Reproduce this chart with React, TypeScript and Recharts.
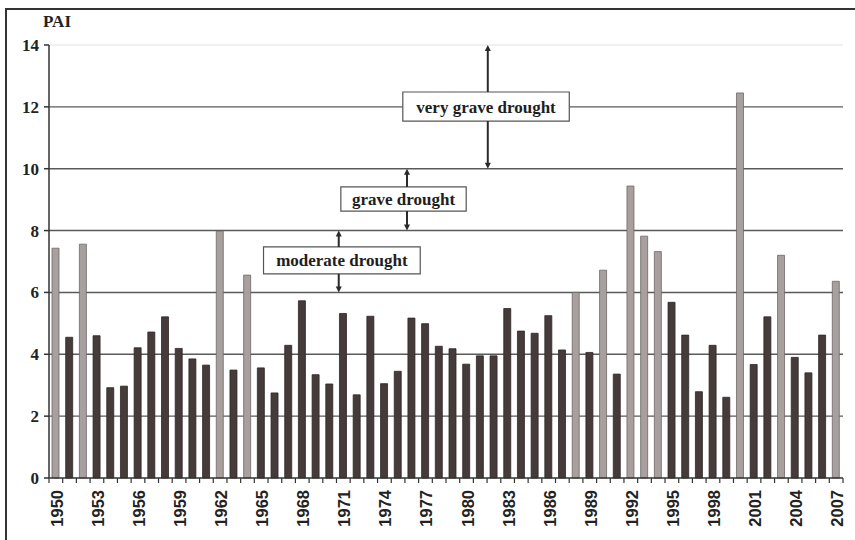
import React from 'react';
import { BarChart, Bar, XAxis, YAxis, CartesianGrid, ReferenceArea, ReferenceLine, Cell } from 'recharts';

const years = [
  '1950', '1951', '1952', '1953', '1954', '1955', '1956', '1957', '1958', '1959',
  '1960', '1961', '1962', '1963', '1964', '1965', '1966', '1967', '1968', '1969',
  '1970', '1971', '1972', '1973', '1974', '1975', '1976', '1977', '1978', '1979',
  '1980', '1981', '1982', '1983', '1984', '1985', '1986', '1987', '1988', '1989',
  '1990', '1991', '1992', '1993', '1994', '1995', '1996', '1997', '1998', '1999',
  '2000', '2001', '2002', '2003', '2004', '2005', '2006', '2007',
];

const pai = [
  7.43, 4.55, 7.56, 4.6, 2.92, 2.97, 4.21, 4.72, 5.21, 4.19,
  3.85, 3.65, 7.98, 3.49, 6.56, 3.56, 2.75, 4.29, 5.73, 3.34,
  3.04, 5.32, 2.69, 5.23, 3.05, 3.45, 5.17, 4.99, 4.26, 4.18,
  3.68, 3.95, 3.95, 5.48, 4.75, 4.68, 5.25, 4.14, 6.0, 4.06,
  6.72, 3.36, 9.44, 7.82, 7.32, 5.68, 4.62, 2.79, 4.29, 2.61,
  12.45, 3.67, 5.21, 7.2, 3.9, 3.4, 4.62, 6.36,
];

const yTicks = [0, 2, 4, 6, 8, 10, 12, 14];
const gridValues = [2, 4, 6, 8, 10, 12];

// drought classes: label box (in category units / PAI units) and the arrow position
const classNames = ['moderate drought', 'grave drought', 'very grave drought'];
const classLower = [6, 8, 10];
const classUpper = [8, 10, 14];
const boxLeft = [15.4, 20.95, 25.4];
const boxRight = [26.65, 29.95, 37.35];
const boxBottom = [6.6, 8.63, 11.54];
const boxTop = [7.47, 9.41, 12.48];
const arrowPos = [20.8, 25.7, 31.5];

const MODERATE = 6;
const W = 855;
const H = 540;
const M = { top: 45, right: 12, left: 9, bottom: 0 };
const Y_W = 40;
const X_H = 62;
const BAND = (W - M.left - M.right - Y_W) / years.length;

const data = years.map((y, i) => ({ year: y, pai: pai[i] }));

const serif = '"Liberation Serif", "Times New Roman", serif';
const sans = '"Liberation Sans", Arial, sans-serif';

const XTick = (props: any) => {
  const { x, y, payload } = props;
  const idx = payload.index;
  const half = BAND / 2;
  return (
    <g>
      {idx === 0 && <line x1={x - half} y1={y} x2={x - half} y2={y + 5} stroke="#333" strokeWidth={1.2} />}
      <line x1={x + half} y1={y} x2={x + half} y2={y + 5} stroke="#333" strokeWidth={1.2} />
      {idx % 3 === 0 && (
        <text
          transform={`translate(${x + 1},${y + 12}) rotate(-90)`}
          textAnchor="end"
          dominantBaseline="central"
          fontFamily={sans}
          fontWeight={700}
          fontSize={16.5}
          fill="#222"
        >
          {payload.value}
        </text>
      )}
    </g>
  );
};

const Arrow = (props: any) => {
  const { x1, y1, x2, y2 } = props;
  const dir = y2 < y1 ? -1 : 1;
  return (
    <g>
      <line x1={x1} y1={y1} x2={x2} y2={y2 - dir * 5} stroke="#2a2a2a" strokeWidth={2} />
      <polygon points={`${x2 - 3},${y2 - dir * 6} ${x2 + 3},${y2 - dir * 6} ${x2},${y2}`} fill="#2a2a2a" />
    </g>
  );
};

export default function App() {
  return (
    <div style={{ position: 'absolute', left: 0, top: 0, width: W, height: H, background: '#fff' }}>
      <div
        style={{
          position: 'absolute', left: 5, top: 8, width: W - 5, height: H - 8,
          borderTop: '2px solid #333', borderLeft: '2px solid #333', boxSizing: 'border-box',
        }}
      />
      <div style={{ position: 'absolute', left: 43, top: 12, fontFamily: serif, fontWeight: 700, fontSize: 17, color: '#222' }}>
        PAI
      </div>
      <BarChart width={W} height={H} data={data} margin={M} barSize={7}>
        <CartesianGrid horizontal vertical={false} horizontalValues={gridValues} stroke="#5a5a5a" strokeWidth={1.4} />
        <XAxis
          dataKey="year"
          interval={0}
          height={X_H}
          tickSize={0}
          tickMargin={0}
          tickLine={false}
          stroke="#333"
          strokeWidth={1.5}
          tick={<XTick />}
        />
        <XAxis xAxisId="n" type="number" domain={[0, years.length]} hide allowDataOverflow />
        <YAxis
          width={Y_W}
          domain={[0, 14]}
          ticks={yTicks}
          interval={0}
          tickSize={5}
          tickMargin={5}
          stroke="#333"
          strokeWidth={1.5}
          tick={{ fontFamily: serif, fontWeight: 700, fontSize: 17, fill: '#222' }}
        />
        <ReferenceLine y={14} stroke="#e2e2e2" strokeWidth={1} />
        <Bar dataKey="pai" isAnimationActive={false}>
          {data.map((d, i) => (
            <Cell
              key={`c-${i}`}
              fill={d.pai >= MODERATE ? '#a89f9f' : '#453b3b'}
              stroke={d.pai >= MODERATE ? '#6f6767' : '#2e2626'}
              strokeWidth={0.8}
            />
          ))}
        </Bar>
        {classNames.map((name, i) => (
          <ReferenceLine
            key={`au-${i}`}
            xAxisId="n"
            segment={[{ x: arrowPos[i], y: boxTop[i] }, { x: arrowPos[i], y: classUpper[i] }]}
            shape={(p: any) => <Arrow {...p} />}
            ifOverflow="visible"
          />
        ))}
        {classNames.map((name, i) => (
          <ReferenceLine
            key={`ad-${i}`}
            xAxisId="n"
            segment={[{ x: arrowPos[i], y: boxBottom[i] }, { x: arrowPos[i], y: classLower[i] }]}
            shape={(p: any) => <Arrow {...p} />}
            ifOverflow="visible"
          />
        ))}
        {classNames.map((name, i) => (
          <ReferenceArea
            key={`box-${i}`}
            xAxisId="n"
            x1={boxLeft[i]}
            x2={boxRight[i]}
            y1={boxBottom[i]}
            y2={boxTop[i]}
            fill="#fff"
            fillOpacity={1}
            stroke="#555"
            strokeWidth={1.2}
            ifOverflow="visible"
            label={{
              value: name,
              position: 'center',
              fill: '#1e1e1e',
              fontSize: 17,
              fontWeight: 700,
              fontFamily: serif,
            }}
          />
        ))}
      </BarChart>
    </div>
  );
}
